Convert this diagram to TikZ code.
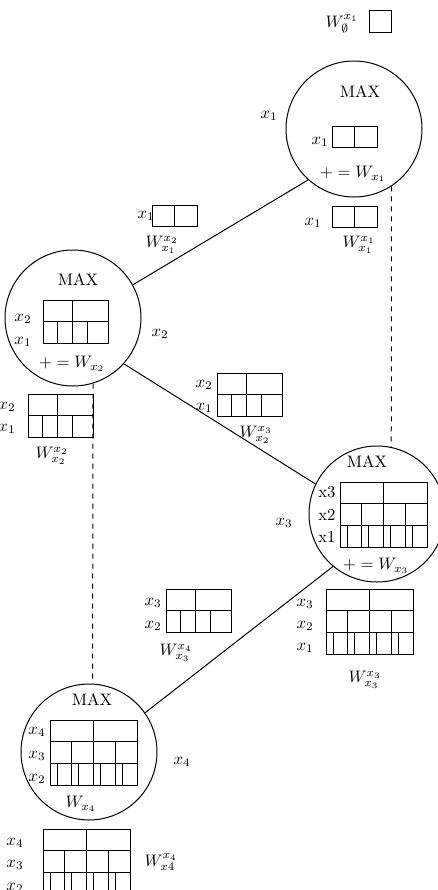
\documentclass[tikz,border=0pt]{standalone}
\usepackage{amssymb}
\tikzset{
  maxnode/.style={circle, draw, line width=0.6pt, minimum size=81.6pt, inner sep=0pt},
  link/.style={line width=0.6pt},
  dlink/.style={line width=0.6pt, dashed},
  tbl/.style={line width=0.6pt},
  onecell/.pic={\draw[tbl] (0,0) rectangle (45,21) (22.5,0) -- (22.5,21);},
  twocell/.pic={\draw[tbl] (0,0) rectangle (65,43) (0,21.5) -- (65,21.5) (29,0) -- (29,43)
      (14.5,21.5) -- (14.5,43) (44,21.5) -- (44,43);},
  threecell/.pic={\draw[tbl] (0,0) rectangle (87,65) (0,21.5) -- (87,21.5) (0,43.5) -- (87,43.5)
      (43.5,0) -- (43.5,65) (21.75,21.5) -- (21.75,65) (65.25,21.5) -- (65.25,65)
      (7,43.5) -- (7,65) (28.75,43.5) -- (28.75,65) (50.5,43.5) -- (50.5,65) (72.25,43.5) -- (72.25,65);},
}

\begin{document}
\begin{tikzpicture}[x=0.6pt, y=-0.6pt]
    \useasboundingbox (0,0) rectangle (438,890);
    % the four MAX nodes
    \node[maxnode] (c1) at (354,129) {};
    \node[maxnode] (c2) at (73,318) {};
    \node[maxnode] (c3) at (377,514) {};
    \node[maxnode] (c4) at (89,752) {};
    \draw[link] (c1.228) -- (c2.29);
    \draw[link] (c2.-42) -- (c3.154.5);
    \draw[link] (c3.230.8) -- (c4.35);
    \draw[dlink] (c1.-57) -- (c3.78);
    \draw[dlink] (c2.-73) -- (c4.87);

    % x1
    \node (w0) at (342,24) {$W^{x_1}_{\emptyset}$};
    \draw[tbl] (369,10) rectangle (391,32);
    \node (v1) at (269,116) {$x_1$};
    \node (m1) at (360,92) {MAX};
    \pic at (332,126) {onecell};
    \node (m1a) at (320,142) {$x_1$};
    \node (m1w) at (353,174) {$+=W_{x_1}$};
    \pic at (332,206) {onecell};
    \node (w11a) at (313,223) {$x_1$};
    \node (w11) at (359,245) {$W^{x_1}_{x_1}$};

    % x2
    \node (w12a) at (146,216) {$x_1$};
    \pic at (152,205) {onecell};
    \node (w12) at (162,245) {$W^{x_2}_{x_1}$};
    \node (v2) at (160,334) {$x_2$};
    \node (m2) at (78,280) {MAX};
    \pic at (43,300) {twocell};
    \node (m2a) at (23,319) {$x_2$};
    \node (m2b) at (23,342) {$x_1$};
    \node (m2w) at (72,364) {$+=W_{x_2}$};
    \pic at (28,394) {twocell};
    \node (w22a) at (7,407) {$x_2$};
    \node (w22b) at (7,429) {$x_1$};
    \node (w22) at (52,456) {$W^{x_2}_{x_2}$};

    % x3
    \pic at (217,373) {twocell};
    \node (w23a) at (204,385) {$x_2$};
    \node (w23b) at (204,408) {$x_1$};
    \node (w23) at (256,435) {$W^{x_3}_{x_2}$};
    \node (v3) at (284,523) {$x_3$};
    \node (m3) at (367,462) {MAX};
    \pic at (340,482) {threecell};
    \node (m3a) at (327,492) {x3};
    \node (m3b) at (327,515) {x2};
    \node (m3c) at (327,537) {x1};
    \node (m3w) at (376,566) {$+=W_{x_3}$};
    \pic at (166,589) {twocell};
    \node (w34a) at (153,603) {$x_3$};
    \node (w34b) at (153,626) {$x_2$};
    \node (w34) at (176,653) {$W^{x_4}_{x_3}$};
    \pic at (326,589) {threecell};
    \node (w33a) at (305,604) {$x_3$};
    \node (w33b) at (305,626) {$x_2$};
    \node (w33c) at (305,648) {$x_1$};
    \node (w33) at (365,680) {$W^{x_3}_{x_3}$};

    % x4
    \node (v4) at (182,762) {$x_4$};
    \node (m4) at (92,700) {MAX};
    \pic at (50,720) {threecell};
    \node (m4a) at (37,732) {$x_4$};
    \node (m4b) at (37,756) {$x_3$};
    \node (m4c) at (37,779) {$x_2$};
    \node (m4w) at (81,804) {$W_{x_4}$};
    \pic at (43,829) {threecell};
    \node (w44a) at (15,843) {$x_4$};
    \node (w44b) at (15,865) {$x_3$};
    \node (w44c) at (15,888) {$x_2$};
    \node (w44) at (161,862) {$W^{x_4}_{x4}$};
  \end{tikzpicture}
\end{document}
